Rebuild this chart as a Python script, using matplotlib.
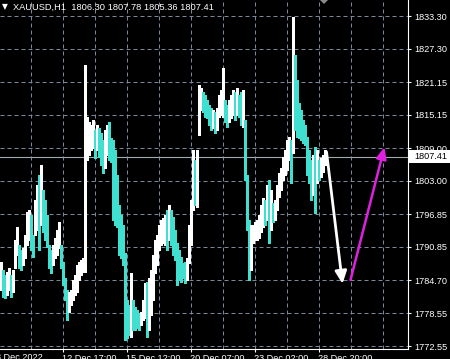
import matplotlib
matplotlib.use("Agg")
import matplotlib.pyplot as plt
from matplotlib.patches import Rectangle, Polygon
from matplotlib.transforms import blended_transform_factory
import numpy as np

# hourly bars, XAUUSD H1 (high / low)
highs = [1788.0, 1786.5, 1785.6, 1786.2, 1786.9, 1785.6, 1786.5, 1792.1, 1794.5, 1791.2,
         1790.2, 1790.6, 1793.0, 1797.2, 1797.6, 1796.7, 1793.0, 1799.4, 1802.2, 1804.0,
         1805.9, 1801.3, 1799.4, 1796.7, 1791.2, 1790.2, 1791.2, 1792.4, 1793.9, 1795.4,
         1791.2, 1788.0, 1785.1, 1782.9, 1782.5, 1782.9, 1784.7, 1785.6, 1787.5, 1788.0,
         1788.4, 1788.8, 1824.3, 1814.7, 1813.8, 1813.2, 1814.2, 1812.3, 1813.2, 1812.7,
         1811.8, 1810.5, 1812.3, 1813.2, 1813.8, 1810.8, 1810.5, 1808.6, 1804.0, 1798.5,
         1796.7, 1794.8, 1789.7, 1781.0, 1780.1, 1786.0, 1781.0, 1779.7, 1779.2, 1778.6,
         1778.8, 1781.0, 1784.2, 1784.3, 1785.1, 1786.5, 1789.3, 1792.1, 1793.0, 1794.8,
         1795.8, 1796.1, 1796.7, 1797.6, 1798.5, 1797.6, 1796.3, 1793.9, 1791.5, 1790.2,
         1788.9, 1787.8, 1788.0, 1788.8, 1794.8, 1799.4, 1808.6, 1806.8, 1808.6, 1820.6,
         1820.1, 1819.3, 1818.8, 1817.8, 1816.9, 1816.4, 1816.0, 1815.6, 1816.4, 1818.8,
         1819.7, 1823.7, 1817.8, 1816.9, 1817.8, 1818.8, 1819.7, 1819.3, 1820.1, 1818.8,
         1819.3, 1819.7, 1814.2, 1804.0, 1795.8, 1794.8, 1794.8, 1795.4, 1795.8, 1796.7,
         1798.5, 1799.8, 1799.4, 1802.2, 1803.1, 1801.3, 1798.9, 1799.4, 1802.2, 1804.4,
         1805.3, 1807.4, 1808.6, 1810.5, 1811.0, 1810.5, 1833.1, 1826.1, 1821.5, 1817.3,
         1816.0, 1814.2, 1813.2, 1811.0, 1808.6, 1806.8, 1807.7, 1809.2, 1808.6, 1806.8,
         1807.2, 1807.7, 1808.6]
lows = [1782.9, 1781.6, 1781.4, 1781.9, 1782.9, 1781.6, 1782.5, 1786.9, 1789.3, 1786.9,
        1786.5, 1787.5, 1788.8, 1791.2, 1792.1, 1790.2, 1788.9, 1793.0, 1793.9, 1790.2,
        1794.8, 1793.5, 1792.1, 1790.8, 1786.9, 1786.0, 1787.5, 1788.8, 1789.3, 1790.6,
        1786.9, 1783.8, 1781.0, 1777.3, 1778.8, 1780.1, 1781.0, 1781.9, 1782.5, 1784.7,
        1785.6, 1786.2, 1786.2, 1806.8, 1807.7, 1808.6, 1809.0, 1807.2, 1808.6, 1807.4,
        1805.9, 1804.4, 1805.3, 1807.7, 1806.8, 1806.4, 1795.8, 1794.8, 1794.5, 1789.3,
        1788.8, 1787.5, 1773.7, 1774.0, 1774.6, 1774.2, 1775.5, 1775.5, 1775.9, 1775.5,
        1776.4, 1777.3, 1777.7, 1774.2, 1775.5, 1778.3, 1781.0, 1786.0, 1787.5, 1790.2,
        1791.2, 1791.5, 1791.2, 1790.2, 1792.1, 1791.2, 1789.3, 1788.4, 1783.8, 1784.7,
        1784.3, 1785.1, 1784.2, 1784.7, 1787.8, 1791.2, 1797.6, 1798.5, 1798.1, 1811.4,
        1816.0, 1815.6, 1814.7, 1814.5, 1813.2, 1812.3, 1812.7, 1811.8, 1812.3, 1814.7,
        1815.1, 1814.7, 1813.8, 1812.9, 1813.8, 1814.5, 1815.1, 1814.2, 1815.1, 1814.7,
        1813.2, 1812.9, 1803.1, 1793.9, 1784.7, 1786.5, 1791.5, 1792.1, 1792.1, 1792.4,
        1793.5, 1794.5, 1794.8, 1795.8, 1791.5, 1793.9, 1795.4, 1795.8, 1797.6, 1800.0,
        1801.3, 1803.1, 1804.0, 1805.0, 1806.8, 1802.6, 1808.1, 1812.3, 1811.0, 1810.8,
        1810.5, 1809.9, 1809.6, 1804.0, 1802.6, 1799.4, 1800.4, 1797.0, 1802.6, 1803.1,
        1803.7, 1804.6, 1805.9]

last_bar = [1806.30, 1807.78, 1805.36, 1807.41]  # open high low close
price_ticks = [1833.30, 1827.30, 1821.15, 1815.15, 1809.00, 1803.00,
               1796.85, 1790.85, 1784.70, 1778.55, 1772.55]
date_labels = ["12 Dec 17:00", "15 Dec 12:00", "20 Dec 07:00", "23 Dec 02:00", "28 Dec 20:00"]
date_bars = [31, 63, 95, 127, 159]

# drawn forecast arrows: (bar, price) -> (bar, price)
white_arrow = [(163, 1808.3), (171, 1784.0)]
magenta_arrow = [(175, 1784.7), (192, 1809.2)]

BG = "black"
UP = "white"
DOWN = "#40e0d0"
GRID = "#778899"

plt.rcParams["font.family"] = ["Liberation Sans", "DejaVu Sans"]

fig = plt.figure(figsize=(4.5, 3.59), dpi=100, facecolor=BG)
ax = fig.add_axes([0, 10 / 359, 408 / 450, 349 / 359], facecolor=BG)
ax.set_xlim(-0.25, 203.75)
ax.set_ylim(1772.0, 1836.25)

# grid
for gx in range(15, 200, 16):
    ax.axvline(gx, color=GRID, lw=0.72, dashes=(4, 3), zorder=0)
for p in price_ticks:
    ax.axhline(p, color=GRID, lw=0.72, dashes=(4, 3), zorder=0)

# bars
idx = np.arange(len(highs))
mid = (np.array(highs) + np.array(lows)) / 2
colors = [UP] + [UP if mid[i] >= mid[i - 1] else DOWN for i in range(1, len(mid))]
ax.vlines(idx, lows, highs, colors=colors, lw=1.0, antialiased=False, zorder=2)

# current price line
ax.axhline(last_bar[3], color="#a0a8b0", lw=0.8, zorder=1)

# arrows
ax.annotate("", xy=white_arrow[1], xytext=white_arrow[0],
            arrowprops=dict(arrowstyle="-|>,head_length=0.75,head_width=0.35",
                            color="white", lw=2, mutation_scale=10,
                            shrinkA=0, shrinkB=0), zorder=3)
ax.annotate("", xy=magenta_arrow[1], xytext=magenta_arrow[0],
            arrowprops=dict(arrowstyle="-|>,head_length=0.7,head_width=0.3",
                            color="#e020e0", lw=1.8, mutation_scale=10,
                            shrinkA=0, shrinkB=0), zorder=3)

# spines / ticks
for s in ["top", "left"]:
    ax.spines[s].set_visible(False)
for s in ["right", "bottom"]:
    ax.spines[s].set_color("white")
    ax.spines[s].set_linewidth(0.8)
ax.yaxis.tick_right()
ax.set_yticks(price_ticks)
ax.set_yticklabels([f"{p:.2f}" for p in price_ticks])
ax.set_xticks(date_bars)
ax.set_xticklabels(date_labels)
for lab in ax.get_xticklabels():
    lab.set_ha("left")
ax.tick_params(axis="y", colors="white", labelsize=6.6, length=2.5, width=0.8, pad=2)
ax.tick_params(axis="x", colors="white", labelsize=6.6, length=2.5, width=0.8, pad=1)
ax.text(-2.0, -0.012, "8 Dec 2022", transform=blended_transform_factory(ax.transData, ax.transAxes),
        color="white", fontsize=6.6, ha="left", va="top", clip_on=False)

# price label on the scale
tr = blended_transform_factory(fig.transFigure, ax.transData)
ax.add_patch(Rectangle((409 / 450, last_bar[3] - 1.2), 41 / 450, 2.4, transform=tr,
                       facecolor="white", edgecolor="none", clip_on=False, zorder=5))
ax.text(414 / 450, last_bar[3], f"{last_bar[3]:.2f}", transform=tr, color="black",
        fontsize=6.6, ha="left", va="center", zorder=6)

# header
fig.text(2 / 450, 1 - 7 / 359, "\u25bc", color="white", fontsize=5.5, va="center",
         family="DejaVu Sans")
fig.text(13 / 450, 1 - 7 / 359,
         "XAUUSD,H1  " + " ".join(f"{v:.2f}" for v in last_bar),
         color="white", fontsize=6.7, va="center")

# chart shift marker
fig.add_artist(Polygon([(320 / 450, 1.0), (328 / 450, 1.0), (324 / 450, 1 - 4 / 359)],
                       closed=True, transform=fig.transFigure, facecolor="#8a8a8a",
                       edgecolor="none"))

fig.savefig("out.png", dpi=100, facecolor=BG)
